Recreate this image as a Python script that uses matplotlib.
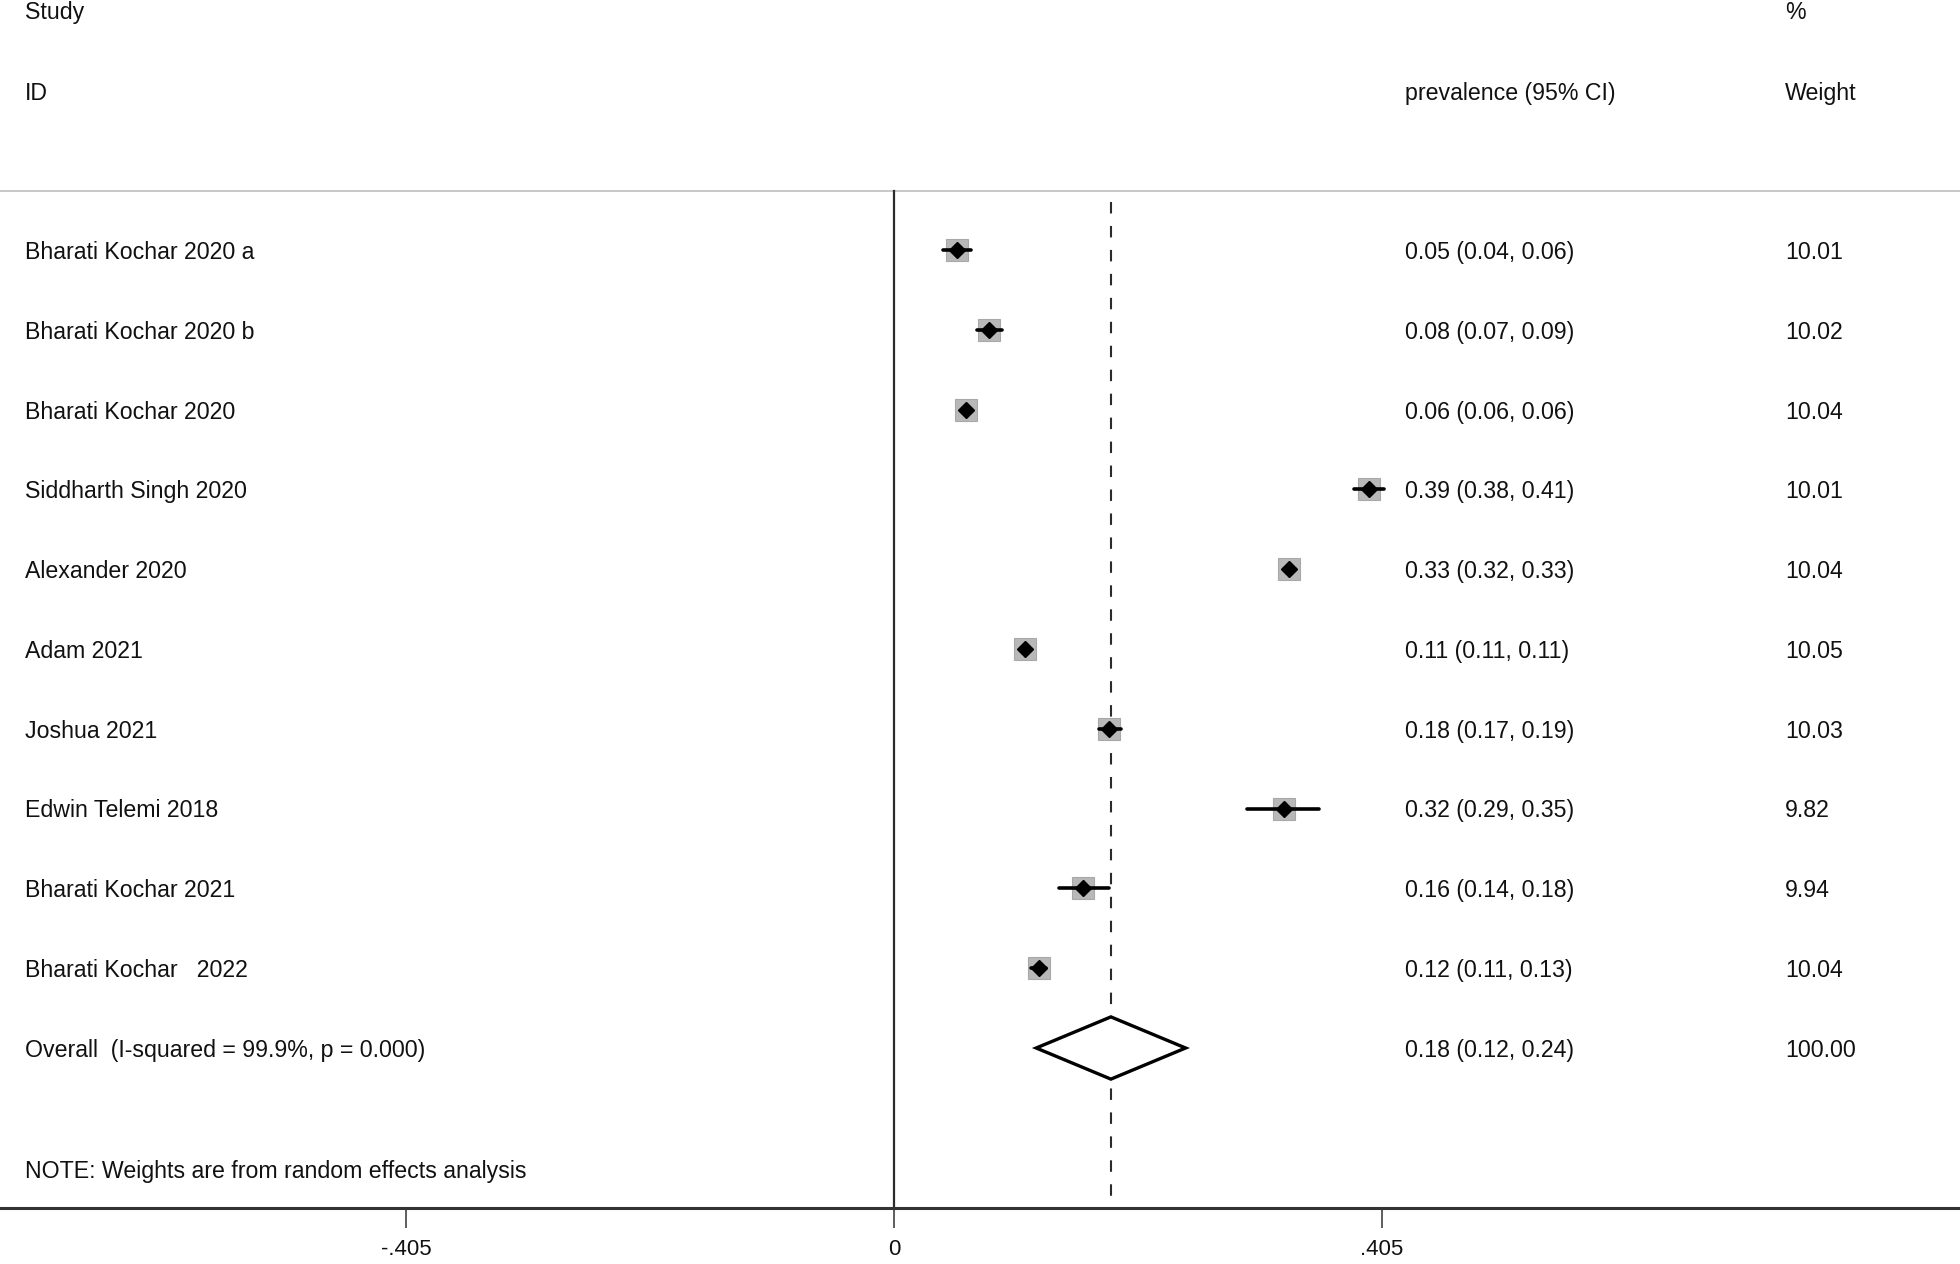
import matplotlib.pyplot as plt
from matplotlib.patches import Polygon
from matplotlib.transforms import blended_transform_factory

plt.rcParams['font.family'] = ['Liberation Sans', 'DejaVu Sans']

studies = ["Bharati Kochar 2020 a", "Bharati Kochar 2020 b", "Bharati Kochar 2020",
           "Siddharth Singh 2020", "Alexander 2020", "Adam 2021", "Joshua 2021",
           "Edwin Telemi 2018", "Bharati Kochar 2021", "Bharati Kochar   2022"]
est = [0.052, 0.079, 0.060, 0.394, 0.328, 0.109, 0.178, 0.324, 0.157, 0.120]
lo = [0.041, 0.069, 0.058, 0.382, 0.324, 0.106, 0.170, 0.293, 0.137, 0.114]
hi = [0.064, 0.090, 0.062, 0.407, 0.333, 0.112, 0.188, 0.353, 0.178, 0.126]
weights = [10.01, 10.02, 10.04, 10.01, 10.04, 10.05, 10.03, 9.82, 9.94, 10.04]

overall_label = "Overall  (I-squared = 99.9%, p = 0.000)"
overall_est, overall_lo, overall_hi = 0.180, 0.118, 0.242
overall_weight = 100.00
note = "NOTE: Weights are from random effects analysis"
xticks = [-0.405, 0, 0.405]
xticklabels = ["-.405", "0", ".405"]

fs = 16.7
txt_color = "#111111"
dy = 0.03  # small downward nudge so text sits on the row centre

fig = plt.figure(figsize=(19.6, 12.64), dpi=100)
ax = fig.add_axes([0, 56 / 1264, 1, 1208 / 1264])
ax.set_xlim(-0.742, 0.8847)
ax.set_ylim(12.005, -3.133)

tr = blended_transform_factory(ax.transAxes, ax.transData)
x_id, x_ci, x_w = 25 / 1960, 1405 / 1960, 1785 / 1960


def put(x, y, s):
    ax.text(x, y + dy, s, transform=tr, fontsize=fs, va="center", color=txt_color)


# headers
put(x_id, -3.01, "Study")
put(x_id, -1.99, "ID")
put(x_ci, -1.99, "prevalence (95% CI)")
put(x_w, -3.01, "%")
put(x_w, -1.99, "Weight")

# separator under header
ax.axhline(-0.74, color="#c8c8c8", lw=1.4, clip_on=False)

# null line and overall line
ax.plot([0, 0], [-0.74, 12.005], color="#2b2b2b", lw=1.6)
ax.plot([overall_est, overall_est], [-0.6, 12.005], color="#2b2b2b", lw=1.5,
        linestyle=(0, (5.5, 6)))

for i, name in enumerate(studies):
    ms = 16 * (weights[i] / 10) ** 0.5
    ax.plot(est[i], i, marker="s", ms=ms, color="#b8b8b8", mec="#a8a8a8", mew=0.8, zorder=3)
    ax.plot([lo[i], hi[i]], [i, i], color="black", lw=2.6, solid_capstyle="round", zorder=4)
    ax.plot(est[i], i, marker="D", ms=8.5, color="black", zorder=5)
    put(x_id, i, name)
    put(x_ci, i, f"{est[i]:.2f} ({lo[i]:.2f}, {hi[i]:.2f})")
    put(x_w, i, f"{weights[i]:.2f}")

yo = len(studies)
h = 0.39
ax.add_patch(Polygon([(overall_lo, yo), (overall_est, yo - h), (overall_hi, yo), (overall_est, yo + h)],
                     closed=True, facecolor="white", edgecolor="black", lw=2.4, zorder=5))
put(x_id, yo, overall_label)
put(x_ci, yo, f"{overall_est:.2f} ({overall_lo:.2f}, {overall_hi:.2f})")
put(x_w, yo, f"{overall_weight:.2f}")
put(x_id, 11.52, note)

for s in ["top", "left", "right"]:
    ax.spines[s].set_visible(False)
ax.spines["bottom"].set_linewidth(2.2)
ax.spines["bottom"].set_color("#333333")
ax.set_yticks([])
ax.set_xticks(xticks)
ax.set_xticklabels(xticklabels, fontsize=16, color=txt_color)
ax.tick_params(axis="x", direction="out", length=14.4, width=1.1, color="#333333", pad=8)

fig.savefig("out.png", dpi=100)
